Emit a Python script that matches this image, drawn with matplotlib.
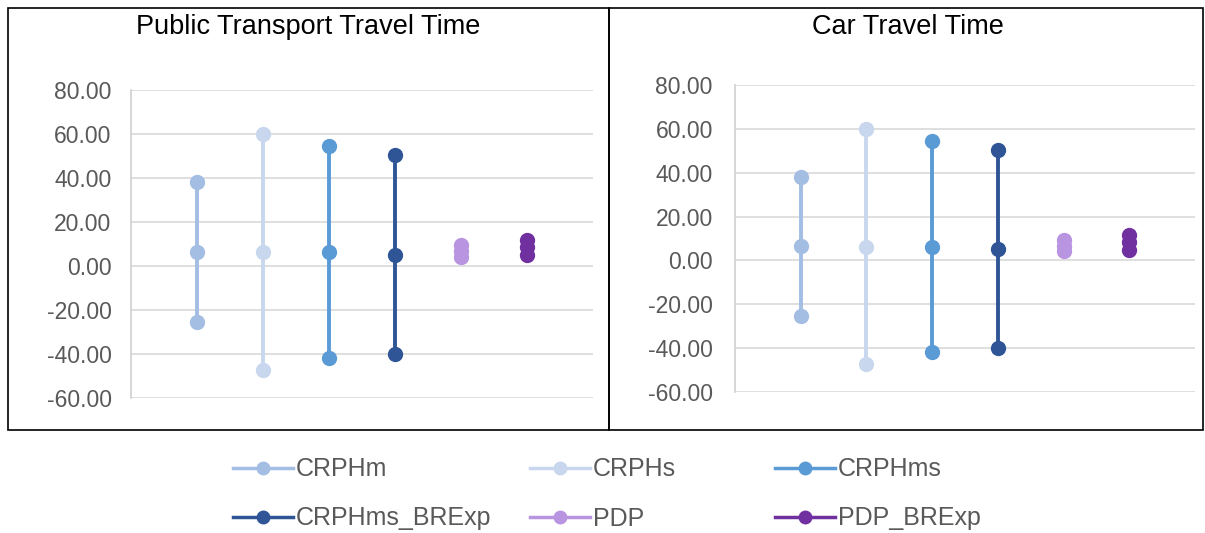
import matplotlib
matplotlib.use("Agg")
import matplotlib.pyplot as plt
from matplotlib.lines import Line2D
from matplotlib.patches import Rectangle

plt.rcParams["font.family"] = ["Liberation Sans", "DejaVu Sans"]

SERIES = ["CRPHm", "CRPHs", "CRPHms", "CRPHms_BRExp", "PDP", "PDP_BRExp"]
COLORS = ["#a3bde3", "#c8d7ee", "#5b9bd5", "#2f5597", "#b994e0", "#7030a0"]

# low / mid / high per series
PT_LOW  = [-25.5, -47.3, -41.8, -40.0, 4.3, 4.8]
PT_MID  = [6.4, 6.2, 6.2, 5.0, 6.8, 8.5]
PT_HIGH = [38.2, 60.0, 54.5, 50.5, 9.5, 11.8]

CAR_LOW  = [-25.5, -47.3, -41.8, -40.0, 4.3, 4.8]
CAR_MID  = [6.4, 6.2, 6.2, 5.0, 6.8, 8.5]
CAR_HIGH = [38.2, 60.0, 54.5, 50.5, 9.5, 11.8]

YTICKS = [-60, -40, -20, 0, 20, 40, 60, 80]

fig = plt.figure(figsize=(12.05, 5.33), dpi=100)
W, H = 1205, 533


def draw_panel(rect, title, low, mid, high, title_xy, pad):
    ax = fig.add_axes(rect)
    for i, name in enumerate(SERIES):
        xs = [i + 1] * 3
        ys = [low[i], mid[i], high[i]]
        ax.plot(xs, ys, color=COLORS[i], linewidth=2.8, marker="o",
                markersize=10, solid_capstyle="butt", zorder=3)
    ax.set_xlim(0, 7)
    ax.set_ylim(-60, 80)
    ax.set_yticks(YTICKS)
    ax.set_yticklabels([f"{v:.2f}" for v in YTICKS], fontsize=16.5, color="#595959")
    ax.set_xticks([])
    ax.tick_params(axis="y", length=0, pad=pad)
    ax.grid(axis="y", color="#d9d9d9", linewidth=1.2)
    ax.set_axisbelow(True)
    for s in ["top", "right", "bottom"]:
        ax.spines[s].set_visible(False)
    ax.spines["left"].set_color("#d0d0d0")
    ax.spines["left"].set_linewidth(1.2)
    fig.text(title_xy[0], title_xy[1], title, fontsize=19.5, ha="center",
             va="center", color="black")
    return ax


draw_panel([131 / W, 1 - 398 / H, 462 / W, 308 / H], "Public Transport Travel Time",
           PT_LOW, PT_MID, PT_HIGH, (308 / W, 1 - 27 / H), 14)
draw_panel([735 / W, 1 - 392 / H, 460 / W, 307 / H], "Car Travel Time",
           CAR_LOW, CAR_MID, CAR_HIGH, (908 / W, 1 - 27 / H), 16)

# panel borders
fig.patches.append(Rectangle((8 / W, 1 - 430 / H), 601 / W, 422 / H,
                             transform=fig.transFigure, fill=False,
                             edgecolor="black", linewidth=1.2))
fig.patches.append(Rectangle((609 / W, 1 - 430 / H), 594 / W, 422 / H,
                             transform=fig.transFigure, fill=False,
                             edgecolor="black", linewidth=1.2))

handles = [Line2D([], [], color=c, linewidth=2.5, marker="o", markersize=9, label=n)
           for n, c in zip(SERIES, COLORS)]
# legend as three columns, two rows (row-major like the source)
col_x = [233, 530, 775]
for k in range(3):
    idx = [k, k + 3]
    fig.legend([handles[i] for i in idx], [SERIES[i] for i in idx],
               loc="center left", bbox_to_anchor=(col_x[k] / W, 1 - 494 / H),
               frameon=False, fontsize=18, handlelength=2.4, handletextpad=0.12,
               labelspacing=1.0, labelcolor="#595959", borderaxespad=0,
               borderpad=0)

fig.savefig("out.png", dpi=100)
